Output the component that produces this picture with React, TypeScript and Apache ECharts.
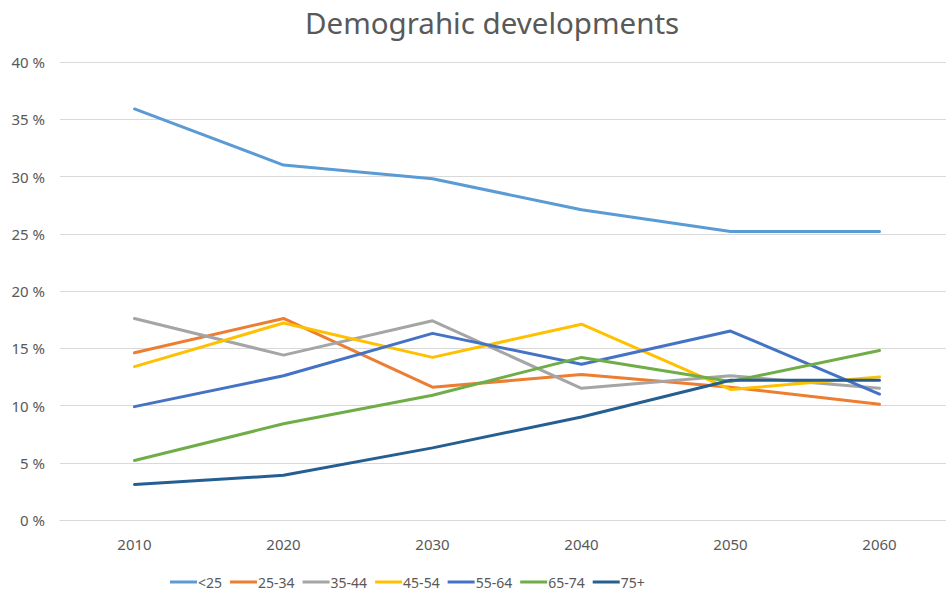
import React, { useEffect, useRef } from "react";
import * as echarts from "echarts";

const years = ["2010", "2020", "2030", "2040", "2050", "2060"];
const seriesNames = ["<25", "25-34", "35-44", "45-54", "55-64", "65-74", "75+"];
const under25 = [35.9, 31.0, 29.8, 27.1, 25.2, 25.2];
const age25to34 = [14.6, 17.6, 11.6, 12.7, 11.6, 10.1];
const age35to44 = [17.6, 14.4, 17.4, 11.5, 12.6, 11.5];
const age45to54 = [13.4, 17.2, 14.2, 17.1, 11.4, 12.5];
const age55to64 = [9.9, 12.6, 16.3, 13.6, 16.5, 11.0];
const age65to74 = [5.2, 8.4, 10.9, 14.2, 12.1, 14.8];
const age75plus = [3.1, 3.9, 6.3, 9.0, 12.2, 12.2];
const seriesValues = [under25, age25to34, age35to44, age45to54, age55to64, age65to74, age75plus];
const colors = ["#5B9BD5", "#ED7D31", "#A5A5A5", "#FFC000", "#4472C4", "#70AD47", "#255E91"];

const FONT = "'Noto Sans', 'Liberation Sans', sans-serif";

export default function App() {
  const ref = useRef<HTMLDivElement>(null);
  useEffect(() => {
    document.body.style.margin = "0";
    if (!ref.current) return;
    const chart = echarts.init(ref.current, undefined, { renderer: "svg" });
    chart.setOption({
      animation: false,
      backgroundColor: "#FFFFFF",
      color: colors,
      title: {
        text: "Demograhic developments",
        left: 300,
        top: 2,
        textStyle: { fontFamily: FONT, fontSize: 29.5, fontWeight: "normal", color: "#595959" },
      },
      legend: {
        top: 570,
        left: 165,
        icon: "rect",
        itemWidth: 27,
        itemHeight: 3,
        itemGap: 8,
        textStyle: { fontFamily: FONT, fontSize: 14, color: "#595959", padding: [0, 0, 0, -4] },
        data: seriesNames,
      },
      grid: { left: 60, top: 62, width: 894, bottom: 72, containLabel: false },
      xAxis: {
        type: "category",
        data: years,
        boundaryGap: true,
        axisLine: { lineStyle: { color: "#D9D9D9" } },
        axisTick: { show: false },
        axisLabel: { fontFamily: FONT, fontSize: 15, color: "#595959", margin: 16 },
      },
      yAxis: {
        type: "value",
        min: 0,
        max: 40,
        interval: 5,
        axisLine: { show: false },
        axisTick: { show: false },
        splitLine: { lineStyle: { color: "#D9D9D9", width: 1 } },
        axisLabel: {
          fontFamily: FONT,
          fontSize: 15,
          color: "#595959",
          margin: 15,
          formatter: (v: number) => `${v} %`,
        },
      },
      series: seriesNames.map((name, i) => ({
        name,
        type: "line",
        data: seriesValues[i],
        symbol: "none",
        lineStyle: { width: 3, color: colors[i], cap: "round", join: "round" },
        itemStyle: { color: colors[i] },
      })),
    });
    return () => chart.dispose();
  }, []);
  return (
    <div style={{ width: 946, height: 592, overflow: "hidden", position: "relative" }}>
      <div ref={ref} style={{ width: 960, height: 592 }} />
    </div>
  );
}
